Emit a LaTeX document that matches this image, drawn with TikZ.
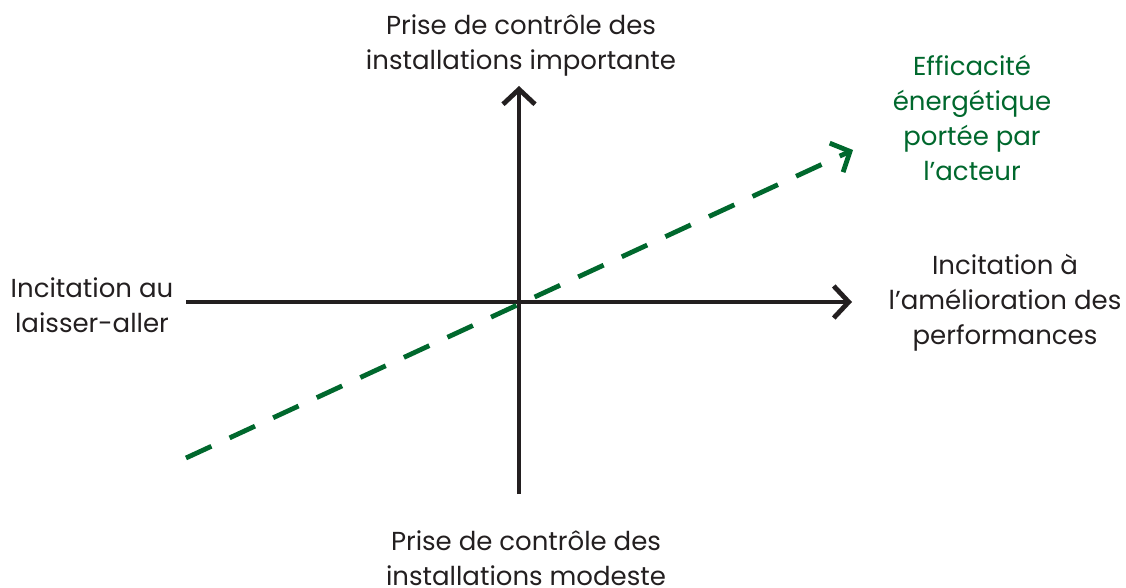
\documentclass[tikz,border=0pt]{standalone}
\usepackage{fontspec}
\setmainfont{Poppins}
\usetikzlibrary{arrows.meta, positioning}
\definecolor{vertActeur}{RGB}{0,104,45}
\definecolor{noirAxe}{HTML}{231F20}

\begin{document}
\begin{tikzpicture}[x=1pt, y=-1pt, font=\fontsize{26}{35}\selectfont,
        axe/.style={line width=4.8pt, noirAxe, -{Straight Barb[length=15pt, width=32pt, line width=4.8pt]}},
        acteur/.style={line width=4.8pt, vertActeur, dash pattern=on 28pt off 20pt,
            -{Straight Barb[length=15pt, width=32pt, line width=4.8pt]}},
        lbl/.style={align=center, text=noirAxe, inner sep=0pt},
        lblv/.style={align=center, text=vertActeur, inner sep=0pt}]
    \useasboundingbox (0,0) rectangle (1126,588);
    % axes
    \coordinate (g) at (186,302);
    \coordinate (d) at (852,302);
    \coordinate (b) at (519,494);
    \coordinate (h) at (519,86);
    \coordinate (a0) at (186,458);
    \coordinate (a1) at (853,150);
    \draw[axe] (g) -- (d);
    \draw[axe] (b) -- (h);
    \draw[acteur] (a0) -- (a1);
    % libelles
    \node[lbl] (haut) at (521,45) {Prise de contrôle des\\installations importante};
    \node[lbl] (bas) at (526,558) {Prise de contrôle des\\installations modeste};
    \node[lbl] (gauche) at (92,305) {Incitation au\\laisser-aller};
    \node[lbl] (droite) at (1005,303) {Incitation à\\l’amélioration des\\performances};
    \node[lblv] (eff) at (972,118) {Efficacité\\énergétique\\portée par\\l’acteur};
\end{tikzpicture}
\end{document}
